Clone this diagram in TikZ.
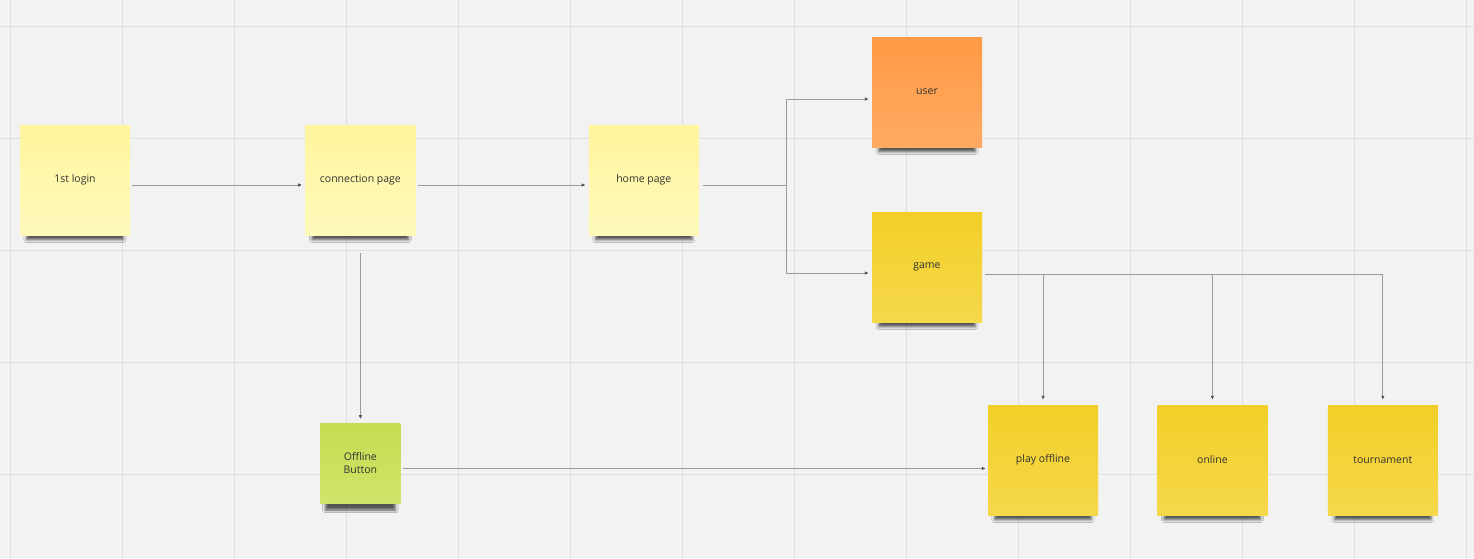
\documentclass[tikz,border=0pt]{standalone}
\usepackage{fontspec}
\setmainfont{Open Sans}
\usetikzlibrary{positioning}
\usetikzlibrary{arrows.meta}
\usetikzlibrary{shadows.blur}
\definecolor{board}{HTML}{F2F2F2}
\definecolor{gridline}{HTML}{DEDEDE}
\definecolor{wire}{HTML}{9A9A9A}
\definecolor{tipcol}{HTML}{505050}
\definecolor{paleTop}{HTML}{FFF59E}
\definecolor{paleBot}{HTML}{FFF9BA}
\definecolor{orangeTop}{HTML}{FF9A45}
\definecolor{orangeBot}{HTML}{FFAA62}
\definecolor{goldTop}{HTML}{F2CF27}
\definecolor{goldBot}{HTML}{F5D84B}
\definecolor{limeTop}{HTML}{C6DC50}
\definecolor{limeBot}{HTML}{D1E46A}
\definecolor{inkcol}{HTML}{333333}

\begin{document}
\begin{tikzpicture}[x=1pt, y=-1pt,
        note/.style={rectangle, minimum size=110pt, inner sep=0pt, align=center, text=inkcol,
            font=\fontsize{10.5}{13}\selectfont,
            blur shadow={shadow xshift=0pt, shadow yshift=-13pt, shadow scale=0.88, shadow blur radius=3pt, shadow opacity=65}},
        pale/.style={note, top color=paleTop, bottom color=paleBot},
        orange/.style={note, top color=orangeTop, bottom color=orangeBot},
        gold/.style={note, top color=goldTop, bottom color=goldBot},
        lime/.style={note, minimum size=80pt, top color=limeTop, bottom color=limeBot},
        arr/.style={draw=wire, line width=0.9pt, -{Latex[length=4pt, width=3.5pt, color=tipcol]}}]
        % board and grid
        \fill[board] (0,0) rectangle (1474,558);
        \useasboundingbox (0,0) rectangle (1474,558);
        \foreach \gx in {10.5,122.5,...,1474} \draw[gridline, line width=1pt] (\gx,0) -- (\gx,558);
        \foreach \gy in {26.5,138.5,...,558} \draw[gridline, line width=1pt] (0,\gy) -- (1474,\gy);

        % sticky notes
        \node[pale] (login) at (75,180) {1st login};
        \node[pale, right = 175pt of login] (conn) {connection page};
        \node[pale, right = 173pt of conn] (home) {home page};
        \node[orange] (user) at (927,92) {user};
        \node[gold] (game) at (927,267) {game};
        \node[lime, below = 188pt of conn] (offbtn) {Offline\\Button};
        \node[gold] (play) at (1043,460) {play offline};
        \node[gold, right = 59pt of play] (online) {online};
        \node[gold, right = 60pt of online] (tourn) {tournament};

        \coordinate (split) at (786,185);

        % connectors
        \draw[arr] ([xshift=2pt, yshift=-5pt] login.east) -- ([xshift=-3pt, yshift=-5pt] conn.west);
        \draw[arr] ([xshift=2pt, yshift=-5pt] conn.east) -- ([xshift=-3pt, yshift=-5pt] home.west);
        \draw[draw=wire, line width=0.9pt] ([xshift=4pt, yshift=-5pt] home.east) -- (split);
        \draw[arr] (split) |- ([xshift=-3pt, yshift=-7pt] user.west);
        \draw[arr] (split) |- ([xshift=-3pt, yshift=-6pt] game.west);
        \draw[arr] ([yshift=-18pt] conn.south) -- ([yshift=4pt] offbtn.north);
        \draw[arr] ([xshift=2pt, yshift=-5pt] offbtn.east) -- ([xshift=-2pt, yshift=-5pt] offbtn.east -| play.west);
        \draw[arr] ([xshift=3pt, yshift=-7pt] game.east) -| ([yshift=5pt] play.north);
        \draw[arr] ([xshift=3pt, yshift=-7pt] game.east) -| ([yshift=5pt] online.north);
        \draw[arr] ([xshift=3pt, yshift=-7pt] game.east) -| ([yshift=5pt] tourn.north);
    \end{tikzpicture}
\end{document}
